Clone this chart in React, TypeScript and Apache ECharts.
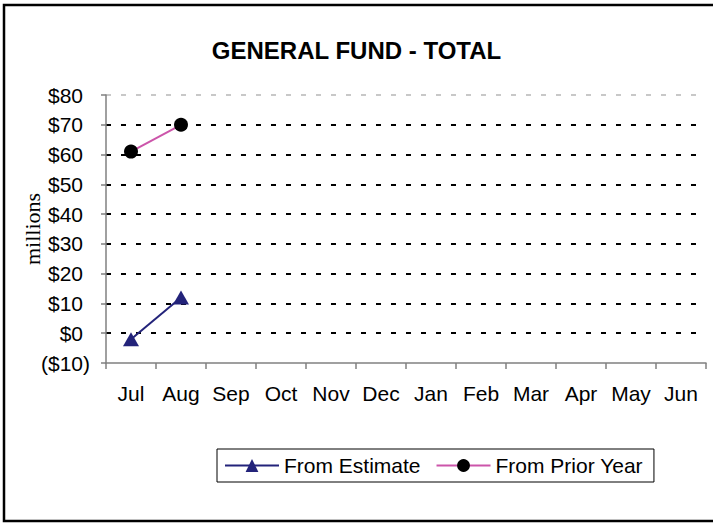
import React, { useEffect, useRef } from "react";
import * as echarts from "echarts";

const months = ["Jul", "Aug", "Sep", "Oct", "Nov", "Dec", "Jan", "Feb", "Mar", "Apr", "May", "Jun"];
const fromEstimate: (number | null)[] = [-2, 12, null, null, null, null, null, null, null, null, null, null];
const fromPriorYear: (number | null)[] = [61, 70, null, null, null, null, null, null, null, null, null, null];
const chartTitle = "GENERAL FUND - TOTAL";
const yAxisName = "millions";

export default function App() {
  const ref = useRef<HTMLDivElement>(null);
  useEffect(() => {
    document.body.style.margin = "0";
    const chart = echarts.init(ref.current!, undefined, { renderer: "svg" });
    const gridColors = ["transparent", "#000", "#000", "#000", "#000", "#000", "#000", "#000", "#000", "#c8c8c8"];
    const font = "Liberation Sans, Arial";
    chart.setOption({
      animation: false,
      backgroundColor: "#fff",
      title: {
        text: chartTitle,
        left: "center",
        top: 33,
        textStyle: { fontFamily: font, fontWeight: "bold", fontSize: 24, color: "#000" },
      },
      graphic: [
        {
          type: "rect",
          shape: { x: 4, y: 5, width: 760, height: 516 },
          style: { fill: "none", stroke: "#000", lineWidth: 2.5 },
          silent: true,
        },
        {
          type: "text",
          x: 32,
          y: 229,
          rotation: Math.PI / 2,
          style: {
            text: yAxisName,
            fontFamily: "Liberation Serif, Times New Roman",
            fontSize: 22,
            fill: "#000",
            align: "center",
            verticalAlign: "middle",
          },
        },
      ],
      legend: {
        left: 217,
        top: 449,
        padding: [6, 11, 6, 7],
        itemGap: 15,
        itemWidth: 54,
        itemHeight: 16,
        borderColor: "#000",
        borderWidth: 1,
        borderRadius: 0,
        textStyle: { fontFamily: font, fontSize: 21, color: "#000" },
        data: ["From Estimate", "From Prior Year"],
      },
      grid: { left: 106, right: 7, top: 95, bottom: 160 },
      xAxis: {
        type: "category",
        data: months,
        boundaryGap: true,
        axisLine: { onZero: false, lineStyle: { color: "#808080", width: 1.5 } },
        axisTick: { show: true, interval: 0, length: 6, lineStyle: { color: "#808080", width: 1.5 } },
        axisLabel: { interval: 0, margin: 20, fontFamily: font, fontSize: 21, color: "#000" },
        splitLine: { show: false },
      },
      yAxis: {
        type: "value",
        min: -10,
        max: 80,
        interval: 10,
        axisLine: { show: true, lineStyle: { color: "#808080", width: 1.5 } },
        axisTick: { show: true, length: 5, lineStyle: { color: "#808080", width: 1.5 } },
        axisLabel: {
          margin: 16,
          fontFamily: font,
          fontSize: 21,
          color: "#000",
          formatter: (v: number) => (v < 0 ? `{n|($${-v})}` : `{p|$${v}}`),
          rich: {
            n: { fontFamily: font, fontSize: 21, color: "#000" },
            p: { fontFamily: font, fontSize: 21, color: "#000", padding: [0, 7, 0, 0] },
          },
        },
        splitLine: { show: true, lineStyle: { color: gridColors, width: 2, type: [5, 10] } },
      },
      series: [
        {
          name: "From Estimate",
          type: "line",
          data: fromEstimate,
          symbol: "triangle",
          symbolSize: [16, 14],
          color: "#23237a",
          lineStyle: { color: "#23237a", width: 2 },
          itemStyle: { color: "#23237a" },
        },
        {
          name: "From Prior Year",
          type: "line",
          data: fromPriorYear,
          symbol: "circle",
          symbolSize: 14,
          color: "#000",
          lineStyle: { color: "#cc55aa", width: 2 },
          itemStyle: { color: "#000" },
        },
      ],
    });
    return () => chart.dispose();
  }, []);
  return <div ref={ref} style={{ position: "absolute", left: 0, top: 0, width: 713, height: 523 }} />;
}
